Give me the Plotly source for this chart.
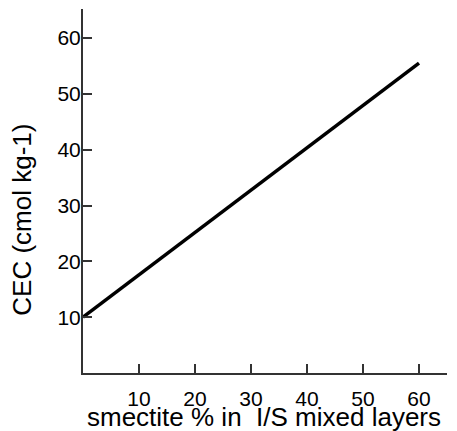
import plotly.graph_objects as go

# Smectite percentage in illite/smectite mixed layers vs cation exchange capacity
smectite_pct = [0, 60]
cec_values = [10, 55.5]

x_ticks = [10, 20, 30, 40, 50, 60]
y_ticks = [10, 20, 30, 40, 50, 60]

x_title = "smectite % in\u00a0 I/S mixed layers"
y_title = "CEC (cmol kg-1)"

FONT = "Liberation Sans, Arial, Helvetica, sans-serif"
AXIS_COLOR = "#333333"

fig = go.Figure()
fig.add_trace(go.Scatter(
    x=smectite_pct, y=cec_values, mode="lines",
    line=dict(color="black", width=3.5),
    showlegend=False, cliponaxis=False,
))

axis_common = dict(
    showgrid=False, zeroline=False, showline=True,
    linecolor=AXIS_COLOR, linewidth=2,
    ticks="inside", ticklen=9, tickwidth=1.5, tickcolor=AXIS_COLOR,
    tickfont=dict(family=FONT, size=21, color="black"),
    tickmode="array",
)

fig.update_xaxes(
    range=[0, 65], tickvals=x_ticks, ticktext=[str(v) for v in x_ticks],
    ticklabelstandoff=6,
    **axis_common,
)
fig.update_yaxes(
    range=[0, 65.2], tickvals=y_ticks, ticktext=[str(v) for v in y_ticks],
    ticklabelstandoff=-4,
    **axis_common,
)

# Axis titles placed as annotations
fig.add_annotation(
    text=x_title, xref="paper", yref="paper", x=0.497, y=-0.122,
    xanchor="center", yanchor="middle", showarrow=False,
    font=dict(family=FONT, size=26, color="black"),
)
fig.add_annotation(
    text=y_title, xref="paper", yref="paper", x=-0.166, y=0.42,
    xanchor="center", yanchor="middle", showarrow=False, textangle=-90,
    font=dict(family=FONT, size=26, color="black"),
)

fig.update_layout(
    width=457, height=431,
    margin=dict(l=83, r=10, t=9, b=58),
    paper_bgcolor="white", plot_bgcolor="white",
)

fig.write_html("out.html")
